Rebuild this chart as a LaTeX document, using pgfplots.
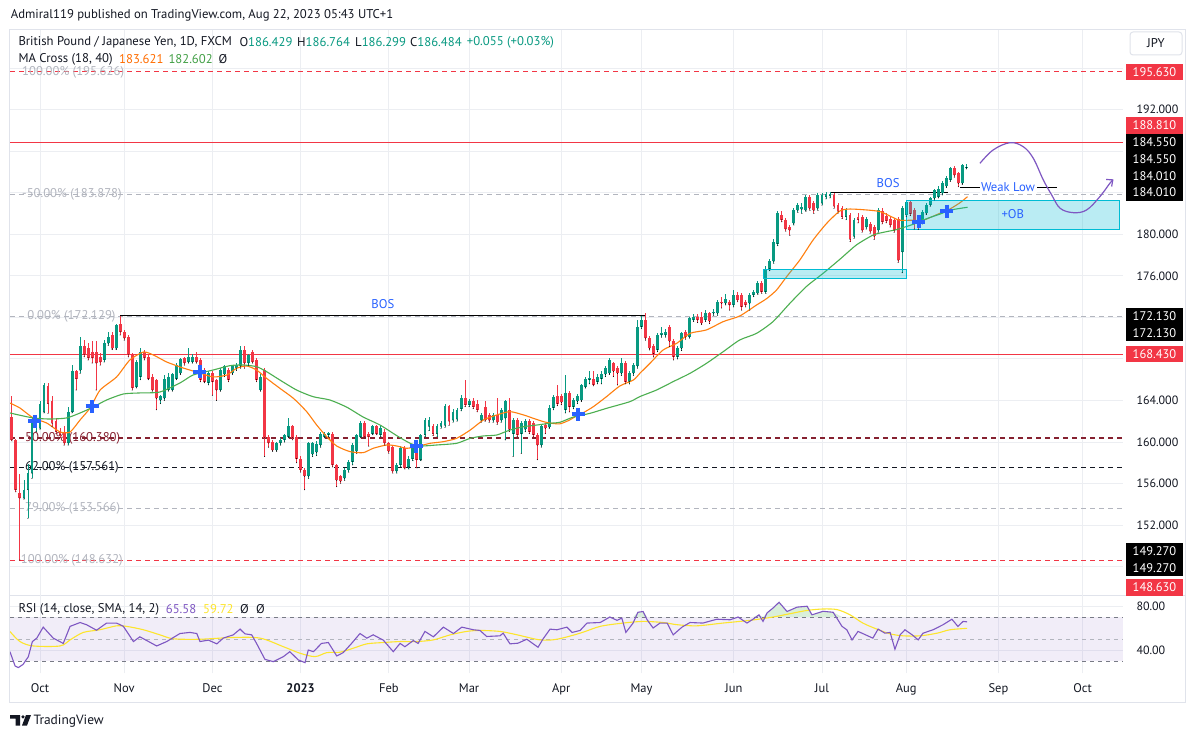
\documentclass[border=0pt]{standalone}
\usepackage{fontspec}
\setmainfont{PT Sans}
\usepackage{pgfplots}
\usepackage{pgfplotstable}
\pgfplotsset{compat=1.18}
\usetikzlibrary{arrows.meta}

\definecolor{tvgreen}{HTML}{089981}
\definecolor{tvred}{HTML}{F23645}
\definecolor{txt}{HTML}{131722}
\definecolor{fibgray}{HTML}{B2B5BE}
\definecolor{fibred}{HTML}{862130}
\definecolor{gridc}{HTML}{ECEEF2}
\definecolor{framec}{HTML}{E0E3EB}
\definecolor{maorange}{HTML}{FF7F0E}
\definecolor{matxt}{HTML}{FF6D00}
\definecolor{magreen}{HTML}{4CAF50}
\definecolor{magtxt}{HTML}{43A047}
\definecolor{tvblue}{HTML}{2962FF}
\definecolor{rsipurple}{HTML}{7E57C2}
\definecolor{rsiyellow}{HTML}{FDE52C}
\definecolor{rsidash}{HTML}{787B86}
\definecolor{obcyan}{HTML}{00BCD4}
\definecolor{upfill}{HTML}{D9EFDA}

\pgfplotstableread{
i o h l c
-7 162.4 164.4 160.1 160.2
-6 160.2 160.3 155.2 155.4
-5 155.1 156.9 148.63 154.6
-4 154.6 156.3 154.5 155.4
-3 155.4 157.9 152.65 157.0
-2 157.0 162.4 156.5 161.8
-1 161.5 162.6 161.0 162.3
0 161.3 163.9 161.2 163.7
1 162.9 165.65 162.8 165.5
2 165.4 165.65 162.76 163.7
3 163.9 164.4 161.5 161.8
4 162.0 162.3 160.8 161.0
5 161.0 161.3 160.4 160.7
6 161.0 161.5 159.7 159.9
7 159.9 163.4 159.7 162.9
8 162.9 167.4 162.8 166.8
9 166.8 166.9 165.0 166.1
10 166.9 170.1 166.6 169.2
11 169.2 169.8 168.2 168.4
12 169.0 169.5 167.9 168.1
13 168.7 169.7 167.6 168.1
14 168.7 169.7 165.0 167.6
15 168.2 168.6 167.4 167.7
16 167.9 169.8 167.7 169.5
17 169.5 170.6 169.3 170.1
18 170.3 170.6 168.9 169.0
19 169.0 171.4 168.9 171.3
20 171.4 172.13 170.3 170.6
21 170.6 170.8 169.8 170.0
22 170.1 170.3 168.2 168.4
23 168.5 168.6 165.0 165.2
24 165.3 167.9 165.2 167.7
25 166.3 169.0 166.0 168.7
26 168.7 168.9 167.9 168.1
27 168.2 168.4 166.0 166.1
28 166.3 166.5 164.9 165.0
29 166.0 166.1 163.1 164.2
30 164.0 164.5 163.7 164.4
31 164.2 166.4 164.0 166.1
32 165.0 166.6 164.9 166.3
33 165.0 166.6 164.9 166.5
34 166.1 167.6 166.0 167.4
35 166.6 168.1 166.5 168.0
36 168.1 168.2 167.4 167.6
37 167.7 169.0 167.6 168.2
38 167.7 168.5 167.6 168.2
39 168.2 168.7 167.6 167.7
40 167.9 168.1 165.8 166.0
41 166.9 167.1 165.7 165.8
42 165.7 166.8 165.5 166.6
43 166.6 166.8 164.5 165.8
44 166.0 166.1 164.0 165.0
45 165.0 167.1 164.9 166.9
46 166.5 167.4 166.3 167.3
47 166.9 167.1 165.8 166.0
48 166.6 167.4 166.5 167.3
49 167.1 167.6 166.9 167.4
50 167.3 169.2 167.1 168.9
51 168.9 169.2 167.1 167.6
52 167.6 168.5 167.4 168.4
53 168.7 168.9 167.6 167.7
54 167.9 168.1 165.8 166.0
55 165.0 166.5 164.9 166.3
56 166.9 167.1 158.6 160.4
57 160.5 160.7 159.5 159.9
58 160.0 160.2 159.1 159.2
59 159.2 160.0 159.1 159.9
60 159.9 160.4 159.7 160.2
61 160.2 160.8 160.0 160.7
62 160.5 162.3 160.4 161.5
63 161.5 161.6 160.2 160.4
64 160.5 160.7 158.0 158.4
65 158.4 158.6 157.1 157.3
66 157.3 157.5 155.4 156.7
67 156.7 160.0 156.5 159.9
68 158.8 160.0 158.6 159.9
69 159.0 160.1 158.7 159.8
70 159.7 161.0 159.5 160.8
71 160.5 161.0 160.4 160.8
72 160.7 161.0 160.5 160.9
73 160.8 161.0 157.6 157.8
74 157.8 157.9 155.7 156.3
75 156.7 156.8 156.0 156.2
76 156.5 157.5 156.3 157.3
77 157.3 158.3 157.1 158.1
78 158.1 159.9 157.8 159.7
79 159.1 160.8 158.9 160.7
80 160.5 162.0 160.4 161.8
81 161.8 162.0 160.4 160.5
82 160.8 161.0 159.6 160.5
83 160.8 161.6 160.7 161.5
84 161.5 161.6 160.7 160.8
85 160.7 161.5 160.5 161.3
86 161.0 161.2 159.7 159.9
87 159.9 160.0 158.9 159.1
88 159.5 159.7 157.0 157.2
89 157.2 158.0 157.0 157.8
90 157.8 159.6 157.6 159.4
91 159.4 159.6 157.4 157.5
92 157.6 158.6 157.4 158.4
93 158.4 159.5 158.2 159.4
94 159.3 159.5 157.5 158.3
95 158.3 160.8 158.2 160.7
96 160.7 162.3 160.5 162.1
97 161.5 162.4 161.1 162.1
98 161.5 161.7 160.6 160.8
99 160.8 161.7 160.5 161.5
100 161.5 162.0 161.3 161.8
101 161.6 163.7 161.4 163.5
102 163.5 163.6 161.6 162.0
103 162.1 163.2 161.9 162.9
104 162.2 163.3 162.0 163.1
105 163.2 164.5 163.0 164.2
106 164.2 166.0 163.4 163.6
107 163.6 164.1 163.4 163.9
108 163.9 164.2 163.2 163.4
109 163.7 164.0 162.9 163.1
110 162.1 162.8 161.9 162.6
111 163.4 163.9 162.0 162.1
112 162.6 162.8 161.9 162.1
113 162.1 162.8 161.9 162.6
114 162.6 164.2 161.7 161.9
115 162.1 163.3 161.9 163.1
116 162.3 164.0 160.2 163.9
117 163.1 164.2 161.0 161.2
118 160.8 162.3 158.6 162.1
119 162.1 162.3 160.5 160.7
120 160.8 162.0 158.9 161.8
121 161.2 162.2 161.0 162.0
122 162.0 162.2 160.8 161.0
123 161.8 162.0 160.5 160.7
124 160.7 160.9 158.3 159.7
125 159.7 161.7 159.5 161.5
126 161.6 161.8 160.8 161.3
127 161.4 163.6 161.3 163.3
128 163.3 164.5 163.1 164.3
129 164.4 165.5 163.5 163.7
130 164.4 164.6 163.6 163.8
131 163.1 166.4 162.8 164.7
132 164.7 164.9 162.9 163.4
133 163.4 164.2 163.2 164.0
134 163.9 164.6 163.7 164.4
135 164.0 165.6 163.9 165.5
136 165.3 166.3 165.2 166.1
137 166.0 166.8 165.6 166.2
138 166.1 166.8 165.4 165.5
139 165.8 166.5 165.6 166.3
140 166.1 166.8 165.6 166.5
141 166.5 167.3 166.3 167.1
142 166.6 168.1 166.5 167.9
143 167.6 167.7 166.3 166.8
144 167.1 167.3 165.5 166.6
145 166.6 168.1 166.4 167.6
146 167.6 167.8 165.6 165.8
147 165.8 166.8 165.6 166.6
148 166.6 167.6 166.4 167.4
149 167.3 171.75 167.1 171.1
150 171.1 172.1 170.9 171.75
151 171.75 172.4 169.8 170.0
152 170.0 170.2 168.86 169.0
153 169.2 169.4 168.2 168.5
154 168.9 170.5 168.7 170.3
155 170.3 171.1 170.1 170.5
156 170.3 170.9 170.1 170.6
157 171.1 171.3 169.2 169.7
158 169.7 169.9 167.9 168.2
159 168.2 169.2 168.0 169.0
160 169.0 170.6 168.8 170.5
161 170.6 170.8 169.9 170.1
162 170.1 172.0 170.0 171.9
163 171.75 172.3 171.6 172.07
164 172.07 172.3 171.5 171.75
165 172.07 172.5 171.3 171.43
166 171.75 172.7 171.6 172.39
167 172.39 172.5 171.4 171.6
168 172.39 172.8 172.2 172.55
169 172.39 173.7 172.2 173.5
170 173.5 174.0 172.9 173.35
171 173.35 174.2 173.2 173.8
172 173.5 173.7 172.7 173.2
173 173.2 174.6 173.0 174.16
174 174.16 174.4 173.5 173.67
175 174.16 174.3 172.7 173.03
176 173.5 173.7 173.0 173.2
177 173.35 174.3 172.7 174.16
178 174.16 174.6 174.0 174.48
179 174.32 175.5 174.2 175.28
180 175.28 175.5 174.3 174.48
181 174.48 176.9 174.3 176.7
182 176.7 177.6 176.5 177.4
183 177.4 179.5 177.2 179.3
184 179.1 182.2 178.9 182.0
185 181.9 182.2 181.2 181.4
186 181.4 181.6 180.3 180.5
187 180.7 180.9 179.9 180.4
188 181.06 182.5 180.9 182.3
189 182.3 183.0 182.1 182.8
190 182.4 183.0 182.0 182.6
191 182.3 183.8 182.2 183.6
192 183.6 183.8 182.3 182.5
193 183.0 183.2 182.0 182.3
194 182.5 184.0 182.3 183.8
195 183.0 184.0 182.8 183.8
196 183.6 184.05 183.4 183.9
197 183.7 184.05 183.5 183.9
198 183.8 184.0 182.5 182.7
199 182.8 183.0 182.0 182.2
200 182.5 182.7 181.5 181.7
201 181.7 182.5 181.4 182.3
202 181.9 182.0 179.3 179.5
203 179.8 181.6 179.6 181.4
204 181.7 182.0 181.1 181.4
205 181.7 181.9 180.2 180.4
206 180.7 181.7 180.5 181.5
207 181.0 181.2 180.1 180.3
208 180.7 180.9 179.5 179.8
209 180.4 182.5 180.2 182.3
210 182.2 182.5 181.0 181.2
211 181.8 182.0 181.1 181.3
212 181.5 181.7 180.7 180.9
213 181.4 181.6 180.2 180.4
214 181.5 181.7 177.3 177.5
215 178.3 182.7 176.3 182.5
216 181.85 183.24 181.7 183.14
217 183.14 183.2 181.8 181.98
218 182.34 182.5 180.5 181.06
219 181.3 181.5 180.47 180.9
220 181.12 182.3 181.0 182.17
221 182.02 183.0 181.9 182.82
222 182.82 183.6 182.7 183.46
223 183.46 184.4 183.3 184.26
224 183.6 184.6 183.5 184.4
225 183.95 185.1 183.8 184.9
226 184.6 185.6 184.5 185.4
227 185.23 186.5 185.1 186.35
228 186.35 186.6 185.5 185.7
229 185.87 186.0 184.58 184.9
230 184.9 186.8 184.8 186.67
231 186.429 186.764 186.299 186.484
}\candles

\pgfplotstableread{
i m
-7.5 163.75
-5 163.27
-1.7 162.31
1.7 161.82
5 160.96
7.5 160.96
10 162.12
12.5 163.27
15 165.00
19.1 166.26
22.4 167.89
25.8 168.66
28.3 168.37
31.6 167.70
35.7 167.12
39.9 166.64
43.2 166.26
46.6 166.45
49.0 167.09
51.5 167.32
54.0 166.93
56.5 166.13
59.8 165.17
63.2 164.20
66.5 162.92
69.0 161.63
71.5 160.51
74.0 159.61
77.3 159.07
80.6 158.97
83.1 159.39
86.5 159.71
89.0 159.61
91.4 159.39
93.9 159.55
97.3 159.87
100.6 160.03
103.9 160.35
107.3 161.15
110.6 162.12
113.9 162.60
117.2 162.92
120.6 162.60
123.0 162.28
125.5 161.96
127.5 161.80
129.7 161.75
132.0 162.10
134.2 162.60
135.5 162.82
138.0 163.40
141.3 164.37
144.6 165.39
148.0 165.97
149.6 166.61
152.1 167.57
155.4 168.86
158.8 169.50
162.1 170.46
166.2 170.79
170.4 171.59
174.5 172.13
178.7 173.19
181.2 173.80
183.7 174.64
186.2 175.92
189.5 177.53
192.8 179.45
196.2 181.06
199.5 182.25
202.0 182.43
206.1 182.34
209.5 182.18
212.8 181.60
214.4 181.35
217.7 181.35
219.5 181.30
221.0 181.45
224.3 182.00
226.1 182.25
229.3 183.00
231.3 183.62
}\mashort

\pgfplotstableread{
i m
-7.5 162.79
-1.7 162.31
2.5 162.21
6.6 162.31
10.0 162.79
13.3 163.37
16.6 164.04
20.8 164.62
24.9 164.72
29.9 164.81
34.9 165.68
38.2 166.45
43.2 166.93
47.4 167.35
50.7 167.41
54.0 167.25
56.5 166.77
59.8 165.97
64.0 165.00
68.1 164.36
72.3 164.04
76.5 163.35
80.6 162.40
84.8 161.63
89.0 160.60
92.3 159.87
94.8 159.61
99.0 159.71
103.9 159.87
107.3 160.35
110.6 160.58
113.9 160.67
117.2 161.15
120.6 161.47
123.9 161.63
127.2 161.80
129.7 161.90
133.0 162.40
137.2 162.76
141.3 163.24
147.1 163.88
149.6 164.37
153.8 165.01
157.9 165.81
162.1 166.61
166.2 167.57
170.4 168.70
174.5 169.82
178.7 170.46
182.8 171.59
187.0 173.35
191.1 174.96
195.3 176.24
199.5 177.60
203.6 178.97
207.8 179.93
211.1 180.25
213.6 180.45
217.7 180.95
219.5 181.25
221.8 181.60
224.5 181.95
226.1 182.20
228.0 182.40
231.3 182.60
}\malong

\pgfplotstableread{
i r
-7.5 38.5
-6.2 25.4
-5.4 24
-4.2 27
-2.9 34
-1.9 47.7
-0.8 50.8
0.8 60.8
3.3 50.8
5.8 46
7.5 61.5
10 65
11.6 63
14.1 58
16.6 64.5
19.1 64.5
20.8 61.5
23.3 47.7
24.9 52
29.1 43.7
31.6 47.7
34.9 55
37.4 56
39.1 55
39.9 47.7
42.0 49
44.1 45.6
45.7 50.8
48.2 53.8
49.9 59
51.1 54.7
52.8 53.8
54.0 46
56.1 31.5
58.2 29.4
60.7 34
62.3 38.5
64.4 31
66.1 28.5
66.9 40
68.2 38.5
70.2 46
71.9 46.8
74.0 34.6
75.6 37.6
77.7 46
79.8 55
81.5 50.8
83.1 53.8
85.6 49
88.1 38.5
89.8 46
91.0 43
93.1 48.6
94.3 46
96.0 56.9
98.1 52
100.6 60.8
103.1 55
105.2 60.8
108.1 58.4
109.7 57.8
111.4 52.3
114.7 52.9
115.5 55.3
117.2 45.6
119.2 46.2
121.4 49.8
124.2 42.5
125.4 49.8
127.2 59
128.9 58.4
131.4 60.8
132.7 56
134.7 57.8
136.4 64.5
139.7 65
142.1 70
143.9 67
145.1 69
146.1 56
147.9 64.5
149.1 74.3
150.4 75
151.4 67.5
152.9 60
154.6 64.5
156.4 64.5
157.9 53.8
160.1 60.8
162.1 65
165.3 64.5
168.8 68
172.1 67.5
174.1 70
176.3 64.5
177.8 68
179.3 72
180.3 66
181.3 73.7
182.8 78.2
184.3 83.4
186.3 75
188.8 79
191.3 79.8
192.5 72
195.3 75.2
197.8 74.3
200.0 61.5
201.2 58.4
202.5 49.2
204.0 56.9
207.7 50.8
209.0 59
210.7 55.3
212.0 56
213.2 40.7
214.5 53.8
215.7 58.4
217.5 53.8
219.0 49.2
220.2 55.3
222.7 58.4
225.2 63
227.4 68
228.9 61.5
230.2 66
231.2 65.6
}\rsi

\pgfplotstableread{
i s
-7.5 56.9
-5 47.7
-1.7 43.7
5 43.7
7.5 49.2
10.8 56
14.9 58.4
19.1 62
21.6 61.5
25.8 58.4
29.9 53.8
33.3 50.2
39.9 49.8
48.2 51.4
54.9 50.8
60.7 43
64.9 37
68.6 34
71.5 37.6
74.8 38
78.1 41.6
81.5 45.6
85.6 46.8
89.8 47.7
93.9 47.7
98.1 49.2
102.3 53.8
106.4 56.9
109.7 57.8
114.7 56.9
119.0 53.8
124.7 49.2
128.9 49.8
134.7 55.3
139.7 61.5
145.4 64.5
150.4 66
155.4 65
158.9 63
163.8 62
170.3 64.5
177.1 67
182.8 70
187.0 73
191.3 76
195.3 77.3
198.8 76.7
202.0 72
205.2 64.5
208.7 59
212.0 54.7
215.2 52.9
219.5 52.9
223.7 55.3
226.9 58.4
231.2 59.7
}\sma

\pgfplotsset{
  candle/.style={only marks, mark=*, mark size=0.2pt, mark options={draw=none, fill=none}, forget plot,
    error bars/y dir=plus, error bars/y explicit, error bars/error mark=none},
}

\begin{document}
\begin{tikzpicture}[font=\fontsize{12.7}{15}\selectfont]
\path[use as bounding box, fill=white] (0pt,0pt) rectangle (1195pt,-738pt);

\begin{scope}[x=1pt,y=-1pt]
\draw[framec, line width=1pt] (9.5,29.5) rectangle (1185.5,702.5);
\draw[framec, line width=1.2pt] (9.5,595.5) -- (1185.5,595.5);
\end{scope}

% ---------------- main price pane ----------------
\begin{axis}[
  at={(10pt,-597pt)}, anchor=south west,
  width=1113pt, height=567pt, scale only axis,
  xmin=-7.48, xmax=270.07, ymin=145.07, ymax=199.67,
  axis line style={draw=none}, major tick length=0pt,
  xtick={0,21,43,65,87,107,130,150,173,195,216,239,260}, xticklabels={,,,,,,,,,,,,},
  ytick={148,152,...,196}, yticklabel pos=right,
  yticklabels={,152.000,156.000,160.000,164.000,,,176.000,180.000,,,192.000,},
  yticklabel style={anchor=west, xshift=10pt, text=txt, font=\fontsize{12}{14}\selectfont},
  grid=major, major grid style={draw=gridc, line width=0.8pt},
]
% levels
\draw[fibgray, line width=0.9pt, dash pattern=on 5pt off 4pt] (-7.48,183.878) -- (270.07,183.878);
\draw[fibgray, line width=0.9pt, dash pattern=on 5pt off 4pt] (-7.48,172.129) -- (270.07,172.129);
\draw[fibred, line width=1.1pt, dash pattern=on 5pt off 4pt] (-7.48,160.38) -- (270.07,160.38);
\draw[txt, line width=1.1pt, dash pattern=on 5pt off 4pt] (-7.48,157.561) -- (270.07,157.561);
\draw[fibgray, line width=0.9pt, dash pattern=on 5pt off 4pt] (-7.48,153.566) -- (270.07,153.566);
\draw[tvred, line width=1pt, dash pattern=on 5pt off 4pt] (-7.48,195.63) -- (270.07,195.63);
\draw[tvred, line width=1pt, dash pattern=on 5pt off 4pt] (-7.48,148.63) -- (270.07,148.63);
\draw[tvred, line width=1pt] (-7.48,188.81) -- (270.07,188.81);
\draw[tvred, line width=1pt] (-7.48,168.43) -- (270.07,168.43);

% fib labels
\node[anchor=west, inner sep=0pt, text=fibgray] at (-4.49,195.63) {100.00\% (195.626)};
\node[anchor=west, inner sep=0pt, text=fibgray] at (-4.49,183.878) {-50.00\% (183.878)};
\node[anchor=west, inner sep=0pt, text=fibgray] at (-3.17,172.129) {0.00\% (172.129)};
\node[anchor=west, inner sep=0pt, text=fibred] at (-3.74,160.38) {50.00\% (160.380)};
\node[anchor=west, inner sep=0pt, text=txt] at (-3.74,157.561) {62.00\% (157.561)};
\node[anchor=west, inner sep=0pt, text=fibgray] at (-3.74,153.566) {79.00\% (153.566)};
\node[anchor=west, inner sep=0pt, text=fibgray] at (-4.81,148.632) {100.00\% (148.632)};

% BOS / weak low lines
\draw[black, line width=1pt] (20,172.13) -- (151,172.13);
\draw[black, line width=1pt] (197,184.01) -- (226.4,184.01);
\draw[black, line width=1pt] (229.4,184.55) -- (253.6,184.55);

% candles: wicks
\addplot[candle, restrict expr to domain={\thisrow{c}-\thisrow{o}}{0:100},
  error bars/error bar style={draw=tvgreen, line width=0.9pt}]
  table[x=i, y=l, y error expr=\thisrow{h}-\thisrow{l}] {\candles};
\addplot[candle, restrict expr to domain={\thisrow{c}-\thisrow{o}}{-100:0},
  error bars/error bar style={draw=tvred, line width=0.9pt}]
  table[x=i, y=l, y error expr=\thisrow{h}-\thisrow{l}] {\candles};
% candles: bodies
\addplot[candle, restrict expr to domain={\thisrow{c}-\thisrow{o}}{0:100},
  error bars/error bar style={draw=tvgreen, line width=2.9pt}]
  table[x=i, y=o, y error expr=\thisrow{c}-\thisrow{o}] {\candles};
\addplot[candle, restrict expr to domain={\thisrow{c}-\thisrow{o}}{-100:0},
  error bars/error bar style={draw=tvred, line width=2.9pt}]
  table[x=i, y=c, y error expr=\thisrow{o}-\thisrow{c}] {\candles};

% moving averages
\addplot[maorange, line width=1.1pt, smooth, tension=0.4] table[x=i, y=m] {\mashort};
\addplot[magreen, line width=1.1pt, smooth, tension=0.4] table[x=i, y=m] {\malong};

% MA cross marks
\addplot[only marks, mark=+, mark size=6.5pt, mark options={line width=3.8pt, draw=tvblue}]
  coordinates {(-1.25,162.0) (12.97,163.46) (39.9,166.74) (93.8,159.61) (134.2,162.69) (219.2,181.21) (226.1,182.24)};

% zones
\draw[obcyan, line width=1pt, fill=obcyan, fill opacity=0.27] (180.3,175.76) rectangle (216.2,176.62);
\draw[obcyan, line width=1pt, fill=obcyan, fill opacity=0.27] (216.2,180.47) rectangle (269.3,183.24);

% projection arrow
\addplot[rsipurple, line width=1.2pt, smooth, tension=0.6, -{Straight Barb[length=5pt,width=9pt]}]
  coordinates {(234.4,186.83) (237.7,188.12) (241.9,188.82) (245.2,188.43) (247.7,187.32) (250.2,185.23) (252.3,183.78) (254.4,182.50) (257.7,182.08) (261.0,182.34) (264.3,183.62) (266.8,184.91) (267.7,185.29)};

% annotations
\node[fill=white, text=tvblue, inner sep=1.5pt] at (241.4,184.55) {Weak Low};
\node[text=tvblue, inner sep=0pt] at (85.5,173.25) {BOS};
\node[text=tvblue, inner sep=0pt] at (211.5,184.94) {BOS};
\node[text=tvblue, inner sep=0pt] at (242.6,181.95) {+OB};
\end{axis}

% ---------------- RSI pane ----------------
\begin{axis}[
  at={(10pt,-673pt)}, anchor=south west,
  width=1113pt, height=76pt, scale only axis,
  xmin=-7.48, xmax=270.07, ymin=19.1, ymax=88.2,
  axis line style={draw=none}, major tick length=0pt,
  xtick={0,21,43,65,87,107,130,150,173,195,216,239,260},
  xticklabels={Oct,Nov,Dec,\textbf{2023},Feb,Mar,Apr,May,Jun,Jul,Aug,Sep,Oct},
  xticklabel style={yshift=-7.5pt, text=txt, font=\fontsize{12.5}{14}\selectfont},
  ytick={40,80}, yticklabels={40.00,80.00}, yticklabel pos=right,
  yticklabel style={anchor=west, xshift=10pt, text=txt, font=\fontsize{12}{14}\selectfont},
  grid=major, major grid style={draw=gridc, line width=0.8pt},
]
\addplot[draw=none, stack plots=y, forget plot] table[x=i, y expr=70] {\rsi};
\addplot[fill=upfill, draw=none, stack plots=y, forget plot] table[x=i, y expr={max(\thisrow{r},70)-70}] {\rsi} \closedcycle;
\fill[rsipurple, fill opacity=0.1] (-7.48,30) rectangle (270.07,70);
\draw[rsidash, line width=0.9pt, dash pattern=on 4pt off 4pt] (-7.48,70) -- (270.07,70);
\draw[fibgray, line width=0.9pt, dash pattern=on 4pt off 4pt] (-7.48,50) -- (270.07,50);
\draw[rsidash, line width=0.9pt, dash pattern=on 4pt off 4pt] (-7.48,30) -- (270.07,30);
\addplot[rsiyellow, line width=1.1pt, smooth, tension=0.5, stack plots=false] table[x=i, y=s] {\sma};
\addplot[rsipurple, line width=1.1pt, stack plots=false] table[x=i, y=r] {\rsi};
\end{axis}

% ---------------- texts & price labels ----------------
\begin{scope}[x=1pt,y=-1pt]
\node[anchor=west, inner sep=0pt, text=txt] at (10.7,15) {Admiral119 published on TradingView.com, Aug 22, 2023 05:43 UTC+1};

\node[anchor=west, inner sep=0pt, text=txt] at (18.3,42.3) {British Pound / Japanese Yen, 1D, FXCM};
\node[anchor=west, inner sep=0pt, text=txt] at (239.3,42.3) {O\textcolor{tvgreen}{186.429}};
\node[anchor=west, inner sep=0pt, text=txt] at (297,42.3) {H\textcolor{tvgreen}{186.764}};
\node[anchor=west, inner sep=0pt, text=txt] at (355,42.3) {L\textcolor{tvgreen}{186.299}};
\node[anchor=west, inner sep=0pt, text=txt] at (410,42.3) {C\textcolor{tvgreen}{186.484}};
\node[anchor=west, inner sep=0pt, text=tvgreen] at (466.7,42.3) {+0.055 (+0.03\%)};

\node[anchor=west, inner sep=0pt, text=txt] at (18.3,59.3) {MA Cross (18, 40)};
\node[anchor=west, inner sep=0pt, text=matxt] at (119,59.3) {183.621};
\node[anchor=west, inner sep=0pt, text=magtxt] at (168.3,59.3) {182.602};
\node[anchor=west, inner sep=0pt, text=txt] at (218.3,59.3) {Ø};

\node[anchor=west, inner sep=0pt, text=txt] at (18.3,609) {RSI (14, close, SMA, 14, 2)};
\node[anchor=west, inner sep=0pt, text=rsipurple] at (165.7,609) {65.58};
\node[anchor=west, inner sep=0pt, text=rsiyellow] at (203,609) {59.72};
\node[anchor=west, inner sep=0pt, text=txt] at (240,609) {Ø};
\node[anchor=west, inner sep=0pt, text=txt] at (256,609) {Ø};

% JPY button
\draw[framec, line width=1pt, rounded corners=3pt] (1130,32) rectangle (1182,55);
\node[text=txt] at (1156,43.5) {JPY};

% price labels
\tikzset{plab/.style={text=white, minimum width=57pt, minimum height=16.6pt, inner sep=0pt, font=\fontsize{12.5}{14}\selectfont}}
\node[plab, fill=tvred] at (1154.5,72) {195.630};
\node[plab, fill=tvred] at (1154.5,125.6) {188.810};
\node[plab, fill=black] at (1154.5,142.5) {184.550};
\node[plab, fill=black] at (1154.5,159.1) {184.550};
\node[plab, fill=black] at (1154.5,175.7) {184.010};
\node[plab, fill=black] at (1154.5,192.3) {184.010};
\node[plab, fill=black] at (1154.5,316.2) {172.130};
\node[plab, fill=black] at (1154.5,332.8) {172.130};
\node[plab, fill=tvred] at (1154.5,353.8) {168.430};
\node[plab, fill=black] at (1154.5,551.2) {149.270};
\node[plab, fill=black] at (1154.5,567.8) {149.270};
\node[plab, fill=tvred] at (1154.5,587.2) {148.630};

% footer logo
\fill[txt] (10,715) -- (20,715) -- (20,725.5) -- (15.5,725.5) -- (15.5,718.5) -- (10,718.5) -- cycle;
\fill[txt] (23,716.8) circle[radius=1.8pt];
\fill[txt] (26,715) -- (31,715) -- (27,725.5) -- (22,725.5) -- cycle;
\node[anchor=west, inner sep=0pt, text=txt, font=\fontsize{13.4}{16}\selectfont] at (33.3,720.7) {TradingView};
\end{scope}
\end{tikzpicture}
\end{document}
